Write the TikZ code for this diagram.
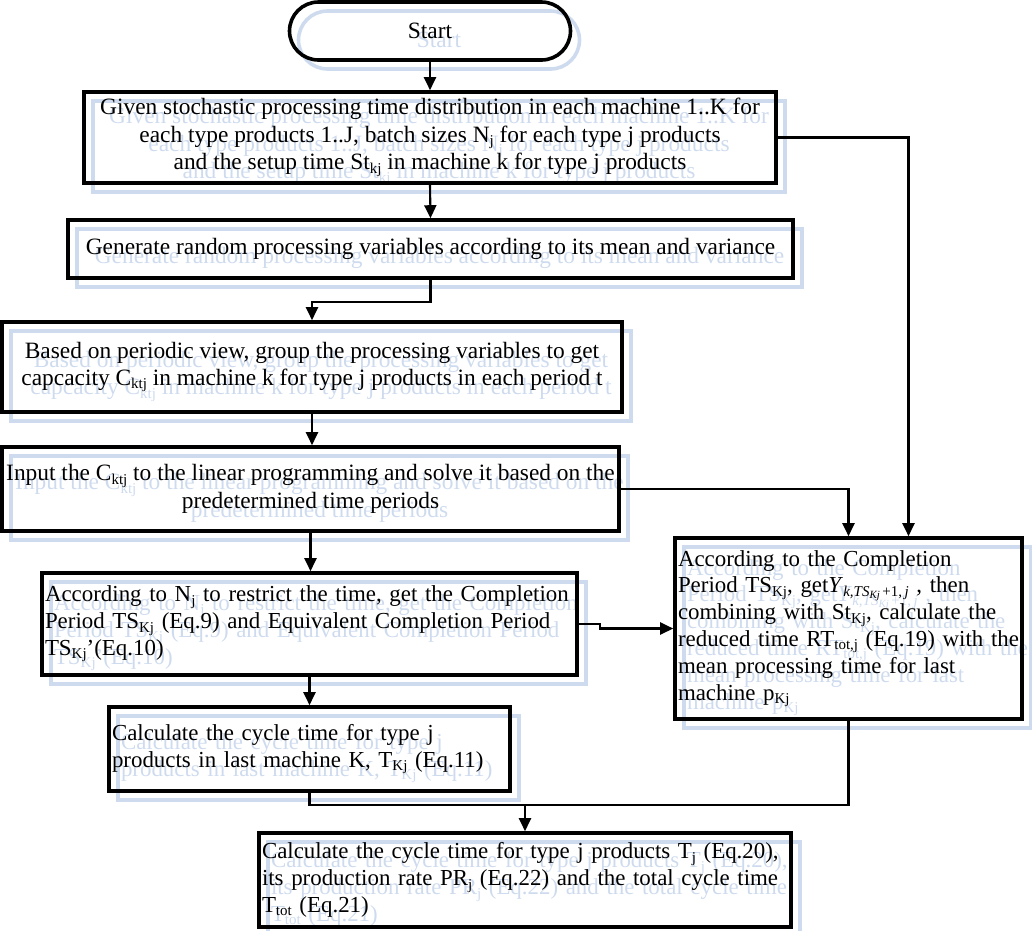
\documentclass[tikz,border=0pt]{standalone}
\usepackage{fontspec}
\setmainfont{Liberation Serif}
\usetikzlibrary{arrows.meta}
\definecolor{ghostc}{RGB}{206,219,238}
\newcommand\tsub[1]{\raisebox{-0.32ex}{\fontsize{15}{15}\selectfont #1}}
\newcommand\ttsub[1]{\raisebox{-0.3ex}{\fontsize{11}{11}\selectfont #1}}
\newcommand\flowbox[4]{%
  \node[ghost,#3] at ([shift={(9,9)}]#2) {#4};
  \node[box,#3] (#1) at (#2) {#4};}
\tikzset{
  box/.style={draw, line width=3.6pt, inner xsep=3pt, inner ysep=2pt,
    font=\fontsize{23.4}{27.5}\selectfont},
  ghost/.style={box, draw=ghostc, text=ghostc},
  conn/.style={line width=2.1pt},
  arr/.style={conn, -{Triangle[width=12pt,length=13pt]}},
  lbox/.style={align=left, font=\fontsize{22.9}{26.8}\selectfont},
  cbox/.style={align=center},
}
\begin{document}
\begin{tikzpicture}[x=1pt,y=-1pt]
\useasboundingbox (0,0) rectangle (1032,930);

\flowbox{start}{430,31}{cbox, rounded corners=29pt, minimum width=281pt, minimum height=58pt}{Start}

\flowbox{b1}{430,137.5}{cbox, minimum width=692pt, minimum height=91pt}{Given stochastic processing time distribution in each machine 1..K for\\ each type products 1..J, batch sizes N\tsub{j} for each type j products\\ and the setup time St\tsub{kj} in machine k for type j products}

\flowbox{b2}{430.5,249}{cbox, minimum width=725pt, minimum height=58pt}{Generate random processing variables according to its mean and variance}

\flowbox{b3}{312,367}{cbox, minimum width=620pt, minimum height=90pt}{Based on periodic view, group the processing variables to get\\ capcacity C\tsub{ktj} in machine k for type j products in each period t}

\flowbox{b4}{310.5,489}{cbox, minimum width=617pt, minimum height=84pt}{Input the C\tsub{ktj} to the linear programming and solve it based on the\\ predetermined time periods}

\flowbox{b5}{309.5,624}{lbox, text width=529pt, minimum height=102pt}{\mbox{According to N\tsub{j} to restrict the time, get the Completion}\\ \mbox{Period TS\tsub{Kj} (Eq.9) and Equivalent Completion Period}\\ TS\tsub{Kj}’(Eq.10)}

\flowbox{b6}{309.5,749}{lbox, text width=395pt, minimum height=84pt}{Calculate the cycle time for type j\\ \mbox{products in last machine K, T\tsub{Kj} (Eq.11)}}

\flowbox{rb}{848.5,628.5}{lbox, text width=341pt, minimum height=181pt}{According to the Completion\\ \mbox{Period TS\tsub{Kj}, get\textit{Y}\tsub{\textit{k,TS}\ttsub{\textit{Kj}}\,+1,\,\textit{j}} , then}\\ \mbox{combining with St\tsub{Kj}, calculate the}\\ \mbox{reduced time RT\tsub{tot,j} (Eq.19) with the}\\ mean processing time for last\\ machine p\tsub{Kj}}

\flowbox{b7}{525,880}{lbox, text width=526pt, minimum height=94pt}{\mbox{Calculate the cycle time for type j products T\tsub{j} (Eq.20),}\\ \mbox{its production rate PR\tsub{j} (Eq.22) and the total cycle time}\\ T\tsub{tot} (Eq.21)}

\coordinate (j) at (525,805);

\draw[arr] (start.south) -- (b1.north);
\draw[arr] (b1.south) -- (b2.north);
\draw[arr] (b2.south) -- ++(0,22) -| (b3.north);
\draw[arr] (b3.south) -- (b3.south |- b4.north);
\draw[arr] (b4.south) -- (b4.south |- b5.north);
\draw[arr] (b5.south) -- (b5.south |- b6.north);
\draw[arr] (b1.east) -| ([xshift=60pt]rb.north);
\draw[arr] (b4.east) -| (rb.north);
\draw[arr] (b5.east) -- ++(21,0) |- (rb.west);
\draw[arr] (b6.south) |- (j) -- (b7.north);
\draw[conn] (rb.south) |- (j);
\end{tikzpicture}
\end{document}
